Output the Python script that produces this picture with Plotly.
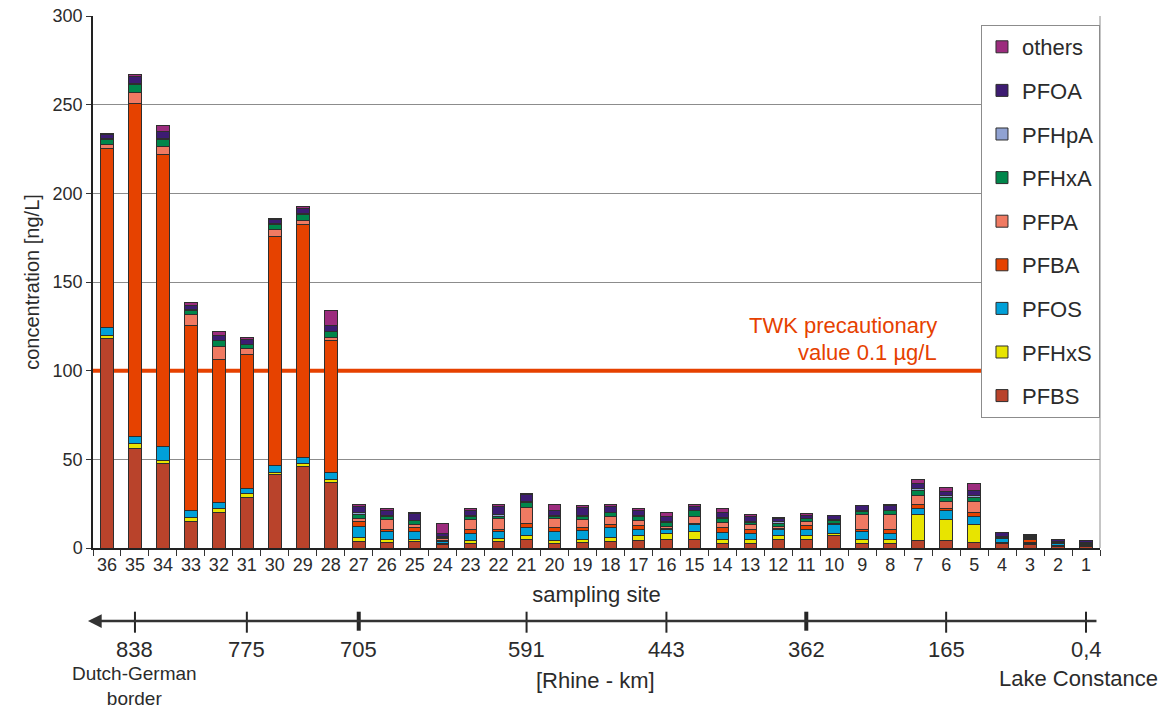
import plotly.graph_objects as go

# Sampling sites along the Rhine, downstream (36) to Lake Constance (1)
sites = [str(s) for s in range(36, 0, -1)]

# Concentrations in ng/L, listed in the same order as `sites`
pfbs = [118.3, 56.2, 47.8, 14.8, 20.1, 28.6, 41.2, 45.9, 37.2, 3.9, 3.0, 3.6,
        2.1, 2.3, 3.9, 4.9, 2.6, 3.0, 3.9, 4.5, 4.9, 4.9, 2.8, 2.8,
        4.9, 4.9, 7.3, 2.6, 2.6, 4.1, 4.1, 3.0, 2.3, 1.7, 1.1, 0.8]
pfhxs = [1.8, 2.5, 1.8, 2.3, 2.3, 2.2, 1.3, 1.9, 1.2, 1.9, 1.9, 1.3,
         0.7, 1.8, 1.5, 1.9, 1.9, 1.9, 2.1, 2.7, 3.4, 4.3, 1.9, 1.9,
         1.9, 1.9, 1.0, 2.3, 2.3, 14.9, 11.7, 10.5, 0.6, 0.9, 0.3, 0.4]
pfos = [4.4, 4.1, 7.9, 4.3, 3.2, 3.0, 4.3, 3.4, 4.1, 6.6, 4.5, 4.3,
        1.1, 4.2, 3.8, 4.9, 4.9, 4.9, 5.7, 3.3, 2.2, 4.3, 4.3, 3.4,
        3.7, 3.7, 4.7, 4.3, 3.4, 3.2, 5.2, 4.2, 2.2, 0.4, 1.2, 0.8]
pfba = [100.9, 188.0, 164.5, 104.0, 80.8, 75.6, 128.8, 131.4, 74.4, 2.3, 1.1, 2.5,
        0.6, 2.2, 1.3, 2.2, 2.3, 1.9, 1.8, 2.3, 0.5, 0.4, 2.5, 2.2,
        0.3, 2.1, 0.3, 1.3, 2.2, 2.1, 1.4, 2.4, 0.3, 2.0, 0.2, 0.3]
pfpa = [2.3, 6.2, 4.3, 6.4, 7.1, 3.0, 4.1, 2.0, 1.9, 1.8, 5.3, 1.7,
        0.6, 5.3, 6.2, 9.0, 5.0, 4.1, 4.2, 2.6, 1.4, 3.8, 3.0, 2.8,
        1.6, 2.2, 0.3, 8.5, 8.5, 5.4, 3.7, 6.0, 0.3, 0.3, 0.2, 0.2]
pfhxa = [2.8, 4.5, 4.1, 2.4, 3.3, 2.1, 3.0, 3.4, 3.2, 2.5, 1.9, 1.9,
         1.1, 1.9, 1.3, 3.0, 1.3, 1.9, 2.2, 2.3, 2.1, 3.3, 2.4, 1.5,
         1.5, 1.6, 2.0, 1.5, 2.0, 3.0, 2.5, 2.5, 0.7, 0.8, 0.3, 0.6]
pfhpa = [0.5, 0.5, 0.5, 0.3, 0.3, 0.3, 0.5, 0.4, 0.3, 1.3, 0.4, 0.4,
         0.3, 0.7, 0.8, 0.4, 0.4, 0.8, 0.4, 0.4, 0.3, 0.4, 0.4, 0.3,
         0.9, 0.4, 0.3, 0.7, 0.3, 0.9, 0.9, 0.9, 0.2, 0.2, 0.2, 0.2]
pfoa = [2.0, 4.0, 4.0, 2.5, 3.0, 3.0, 1.8, 2.8, 3.3, 3.0, 3.3, 3.6,
        1.8, 3.0, 4.5, 3.6, 3.0, 4.4, 3.0, 3.3, 3.2, 1.9, 2.8, 2.9,
        2.0, 1.8, 2.2, 2.5, 2.4, 2.9, 2.5, 3.2, 1.9, 1.0, 1.3, 0.9]
others = [1.0, 1.0, 3.2, 1.3, 2.0, 1.0, 1.0, 1.1, 8.2, 1.1, 1.0, 0.9,
          5.6, 1.0, 1.3, 0.9, 3.2, 0.8, 1.3, 1.0, 2.1, 1.0, 2.1, 1.2,
          0.6, 0.6, 0.2, 0.3, 1.1, 1.9, 2.2, 3.4, 0.5, 0.3, 0.2, 0.1]

series_names = ["PFBS", "PFHxS", "PFOS", "PFBA", "PFPA", "PFHxA", "PFHpA", "PFOA", "others"]
series_values = [pfbs, pfhxs, pfos, pfba, pfpa, pfhxa, pfhpa, pfoa, others]
series_colors = ["#B9432B", "#E8E400", "#00A0D8", "#E64200", "#F07A62",
                 "#00864B", "#90A2D2", "#3D1C72", "#9C2C7E"]

# TWK precautionary value (0.1 µg/L = 100 ng/L)
twk_value = 100
twk_lines = ["TWK precautionary", "value 0.1 µg/L"]

# Rhine kilometre markers and the sampling site each one sits at
km_labels = ["838", "775", "705", "591", "443", "362", "165", "0,4"]
km_sites = ["35", "31", "27", "21", "16", "11", "6", "1"]
km_major = ["705", "362"]

FONT = "Liberation Sans, Arial, sans-serif"
TEXT = "#2B2B2B"

fig = go.Figure()
n_series = len(series_names)
for k, (name, vals, col) in enumerate(zip(series_names, series_values, series_colors)):
    fig.add_trace(go.Bar(
        x=sites, y=vals, name=name, legendgroup=name,
        legendrank=n_series - k,  # top of the stack listed first
        marker=dict(color=col, line=dict(color="#2E2E2E", width=1)),
    ))

# helper: pixel offset below the x axis -> paper coordinate
PLOT_H = 532.0


def below(px):
    return -px / PLOT_H


site_index = {s: i for i, s in enumerate(sites)}
x_lo, x_hi = -0.5, len(sites) - 0.5

shapes = [
    # right border of the plot area
    dict(type="line", xref="paper", yref="paper", x0=1, x1=1, y0=0, y1=1,
         line=dict(color="#8C8C8C", width=1)),
    # TWK precautionary value, above the gridlines but under the bars
    dict(type="line", xref="x", yref="y", x0=x_lo, x1=x_hi, y0=twk_value, y1=twk_value,
         line=dict(color="#E64100", width=4), layer="between"),
]

annotations = [
    # arrow of the Rhine-km scale
    dict(xref="paper", yref="paper", x=-0.005, y=below(73), ax=1010, ay=0,
         axref="pixel", ayref="pixel", text="", showarrow=True,
         arrowhead=2, arrowsize=1.1, arrowwidth=2.5, arrowcolor="#333333"),
]

for lab, site in zip(km_labels, km_sites):
    xi = site_index[site]
    major = lab in km_major
    shapes.append(dict(type="line", xref="x", yref="paper", x0=xi, x1=xi,
                       y0=below(63.7), y1=below(82.7 if major else 84.7),
                       line=dict(color="#262626", width=4 if major else 2)))
    annotations.append(dict(xref="x", yref="paper", x=xi, y=below(101),
                            text=lab, showarrow=False, yanchor="middle",
                            font=dict(size=22, color=TEXT)))

annotations += [
    dict(xref="x", yref="paper", x=site_index["35"], y=below(138), text="Dutch-German<br>border",
         showarrow=False, yanchor="middle", font=dict(size=19, color=TEXT)),
    dict(xref="x", yref="paper", x=17.45, y=below(132), text="[Rhine - km]",
         showarrow=False, yanchor="middle", font=dict(size=22, color=TEXT)),
    dict(xref="x", yref="paper", x=34.72, y=below(130), text="Lake Constance",
         showarrow=False, yanchor="middle", font=dict(size=22, color=TEXT)),
    dict(xref="paper", yref="y", x=0.8401, y=twk_value + 25.2, text=twk_lines[0],
         showarrow=False, xanchor="right", yanchor="middle",
         font=dict(size=22, color="#E64100")),
    dict(xref="paper", yref="y", x=0.8401, y=twk_value + 10.5, text=twk_lines[1],
         showarrow=False, xanchor="right", yanchor="middle",
         font=dict(size=22, color="#E64100")),
]

fig.update_layout(
    width=1165, height=712,
    barmode="stack", bargap=0.55,
    margin=dict(l=93, r=65, t=16, b=164, autoexpand=False),
    paper_bgcolor="white", plot_bgcolor="white",
    font=dict(family=FONT, color=TEXT, size=18),
    legend=dict(x=0.8818, y=0.9831, xanchor="left", yanchor="top",
                traceorder="grouped", tracegroupgap=12,
                bordercolor="#8C8C8C", borderwidth=1, bgcolor="white",
                font=dict(size=22, color=TEXT)),
    shapes=shapes,
    annotations=annotations,
)

fig.update_xaxes(
    type="category", categoryorder="array", categoryarray=sites,
    range=[x_lo, x_hi],
    showline=True, linecolor="#222222", linewidth=1.5,
    ticks="outside", tickson="boundaries", ticklen=6, tickcolor="#333333",
    tickangle=0, tickfont=dict(size=18, color=TEXT),
    title=dict(text="sampling site", font=dict(size=22, color=TEXT), standoff=12),
    showgrid=False,
)
fig.update_yaxes(
    range=[0, 300], dtick=50,
    showline=True, linecolor="#222222", linewidth=1.5,
    ticks="outside", ticklen=5, tickcolor="#333333",
    tickfont=dict(size=18, color=TEXT),
    showgrid=True, gridcolor="#8C8C8C", gridwidth=1,
    zeroline=False,
    title=dict(text="concentration [ng/L]", font=dict(size=20, color=TEXT), standoff=8),
)

fig.write_html("out.html")
